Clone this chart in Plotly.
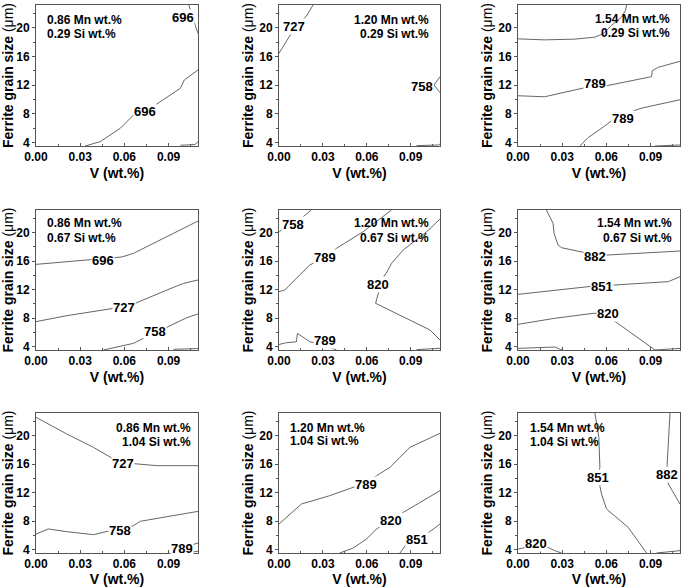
import plotly.graph_objects as go

# ---------------- data ----------------
MN_LEVELS = ["0.86", "1.20", "1.54"]
SI_LEVELS = ["0.29", "0.67", "1.04"]
X_TICKS = [0.0, 0.03, 0.06, 0.09]
Y_TICKS = [4, 8, 12, 16, 20]
X_RANGE = [0.0, 0.11]
Y_RANGE = [3.5, 23.2]

# Panel 1: 0.86 Mn, 0.29 Si
P1_LINES_X = [[0.1038, 0.1065, 0.11],
              [0.0333, 0.0435, 0.0572, 0.0662, 0.0742, 0.0821, 0.098, 0.1007, 0.11],
              [0.098, 0.108, 0.11]]
P1_LINES_Y = [[23.2, 21.3, 19.24],
              [3.5, 4.1, 5.97, 7.83, 8.39, 9.37, 11.56, 12.72, 14.12],
              [3.6, 3.7, 4.1]]
P1_LABEL_X = [0.0995, 0.0742]
P1_LABEL_Y = [21.5, 8.39]
P1_LABEL_T = ["696", "696"]

# Panel 2: 1.20 Mn, 0.29 Si
P2_LINES_X = [[0.0, 0.005, 0.0084, 0.0192, 0.021, 0.0233],
              [0.11, 0.1059, 0.11],
              [0.094, 0.1089, 0.11]]
P2_LINES_Y = [[16.45, 18.08, 19.24, 21.8, 22.5, 23.2],
              [13.19, 12.02, 10.95],
              [3.55, 3.64, 3.78]]
P2_LABEL_X = [0.0105, 0.0974]
P2_LABEL_Y = [20.17, 11.88]
P2_LABEL_T = ["727", "758"]

# Panel 3: 1.54 Mn, 0.29 Si
P3_LINES_X = [[0.0, 0.0181, 0.0386, 0.0522, 0.0578, 0.0635, 0.0703, 0.073, 0.0737],
              [0.0, 0.0181, 0.0442, 0.0522, 0.0601, 0.0907, 0.0912, 0.0953, 0.11],
              [0.042, 0.0476, 0.059, 0.0635, 0.0714, 0.0748, 0.0839, 0.11],
              [0.093, 0.11]]
P3_LINES_Y = [[18.47, 18.33, 18.43, 18.71, 19.18, 20.35, 21.52, 22.45, 23.2],
              [10.52, 10.38, 11.59, 12.1, 11.92, 13.19, 14.03, 14.5, 15.34],
              [3.5, 4.67, 6.31, 7.01, 7.5, 8.18, 8.79, 9.96],
              [3.5, 3.64]]
P3_LABEL_X = [0.0522, 0.0714]
P3_LABEL_Y = [12.2, 7.35]
P3_LABEL_T = ["789", "789"]

# Panel 4: 0.86 Mn, 0.67 Si
P4_LINES_X = [[0.0, 0.039, 0.0583, 0.0662, 0.0889, 0.11],
              [0.0, 0.0209, 0.0526, 0.0674, 0.0889, 0.1002, 0.11],
              [0.0458, 0.0572, 0.0662, 0.073, 0.09, 0.1025, 0.11],
              [0.0934, 0.11]]
P4_LINES_Y = [[15.55, 16.26, 16.59, 17.1, 19.45, 21.65],
              [7.49, 8.33, 9.36, 10.07, 11.94, 12.88, 13.35],
              [3.5, 3.97, 4.44, 5.14, 6.78, 8.05, 8.57],
              [3.6, 3.7]]
P4_LABEL_X = [0.0458, 0.0599, 0.081]
P4_LABEL_Y = [16.16, 9.46, 6.08]
P4_LABEL_T = ["696", "727", "758"]

# Panel 5: 1.20 Mn, 0.67 Si
P5_LINES_X = [[0.0, 0.0027, 0.0096, 0.0176, 0.0221],
              [0.0, 0.0039, 0.0141, 0.021, 0.0313, 0.0393, 0.0575, 0.0666, 0.0769],
              [0.11, 0.1009, 0.0849, 0.0769, 0.0739, 0.0678, 0.0682, 0.066, 0.1032, 0.11],
              [0.0, 0.005, 0.0119, 0.0126, 0.021, 0.0313, 0.0393],
              [0.094, 0.11]]
P5_LINES_Y = [[20.06, 20.62, 21.09, 22.4, 23.2],
              [11.71, 11.94, 14.05, 15.46, 16.49, 17.81, 20.15, 21.56, 23.2],
              [21.93, 20.15, 17.57, 15.7, 14.52, 12.74, 11.71, 10.07, 6.31, 4.91],
              [4.28, 4.52, 4.66, 5.85, 4.66, 4.2, 3.5],
              [3.55, 3.74]]
P5_LABEL_X = [0.0096, 0.0313, 0.0678, 0.0313]
P5_LABEL_Y = [21.09, 16.49, 12.74, 4.77]
P5_LABEL_T = ["758", "789", "820", "789"]

# Panel 6: 1.54 Mn, 0.67 Si
P6_LINES_X = [[0.0193, 0.0238, 0.0245, 0.0272, 0.0295, 0.0431, 0.0522, 0.0612, 0.0839, 0.11],
              [0.0, 0.0249, 0.0476, 0.0567, 0.0658, 0.1021, 0.11],
              [0.0, 0.0249, 0.051, 0.0612, 0.0646, 0.093],
              [0.0, 0.0249, 0.0299],
              [0.093, 0.11]]
P6_LINES_Y = [[23.2, 21.32, 19.92, 18.28, 17.9, 17.34, 16.9, 16.87, 17.1, 17.43],
              [11.33, 11.94, 12.41, 12.5, 12.65, 13.12, 13.82],
              [7.11, 7.96, 8.66, 8.66, 7.72, 3.5],
              [3.73, 3.92, 3.5],
              [3.5, 3.73]]
P6_LABEL_X = [0.0522, 0.0567, 0.0612]
P6_LABEL_Y = [16.63, 12.41, 8.66]
P6_LABEL_T = ["882", "851", "820"]

# Panel 7: 0.86 Mn, 1.04 Si
P7_LINES_X = [[0.0, 0.0209, 0.039, 0.0526, 0.0594, 0.0685, 0.0821, 0.11],
              [0.0, 0.0084, 0.0209, 0.039, 0.0503, 0.0572, 0.0662, 0.0708, 0.0889, 0.11],
              [0.0912, 0.0991, 0.11],
              [0.1025, 0.11]]
P7_LINES_Y = [[22.59, 20.25, 18.37, 16.73, 16.2, 16.02, 15.79, 15.79],
              [6.17, 6.88, 6.5, 6.08, 6.64, 6.8, 7.35, 7.96, 8.61, 9.36],
              [3.5, 4.2, 4.91],
              [3.55, 3.74]]
P7_LABEL_X = [0.0594, 0.0572, 0.0991]
P7_LABEL_Y = [16.12, 6.64, 4.2]
P7_LABEL_T = ["727", "758", "789"]

# Panel 8: 1.20 Mn, 1.04 Si
P8_LINES_X = [[0.0, 0.0062, 0.0153, 0.0347, 0.0507, 0.0593, 0.0666, 0.0758, 0.0895, 0.11],
              [0.0415, 0.0507, 0.0598, 0.0666, 0.0762, 0.0849, 0.11],
              [0.0826, 0.0872, 0.094, 0.1009, 0.11]]
P8_LINES_Y = [[7.58, 8.75, 10.39, 11.57, 12.74, 13.12, 14.38, 15.55, 18.37, 20.34],
              [3.5, 4.2, 5.47, 6.88, 8.05, 9.22, 12.27],
              [3.5, 4.77, 5.33, 6.17, 7.58]]
P8_LABEL_X = [0.0593, 0.0762, 0.094]
P8_LABEL_Y = [13.12, 8.05, 5.33]
P8_LABEL_T = ["789", "820", "851"]

# Panel 9: 1.54 Mn, 1.04 Si
P9_LINES_X = [[0.0522, 0.0549, 0.0556, 0.0544, 0.0567, 0.0601, 0.0748, 0.0873],
              [0.1032, 0.1025, 0.1016, 0.1009, 0.1021, 0.1066, 0.11],
              [0.0, 0.0079, 0.0125, 0.0193, 0.0249, 0.0295],
              [0.0941, 0.11]]
P9_LINES_Y = [[23.2, 19.78, 15.56, 14.15, 11.8, 9.69, 7.11, 3.5],
              [23.2, 19.78, 15.56, 14.52, 13.21, 11.57, 10.39, 8.75],
              [4.06, 4.39, 4.77, 4.39, 3.83, 3.5],
              [3.5, 3.83]]
P9_LABEL_X = [0.0544, 0.1009, 0.0125]
P9_LABEL_Y = [14.15, 14.52, 4.77]
P9_LABEL_T = ["851", "882", "820"]

PANELS = [
    (P1_LINES_X, P1_LINES_Y, P1_LABEL_X, P1_LABEL_Y, P1_LABEL_T),
    (P2_LINES_X, P2_LINES_Y, P2_LABEL_X, P2_LABEL_Y, P2_LABEL_T),
    (P3_LINES_X, P3_LINES_Y, P3_LABEL_X, P3_LABEL_Y, P3_LABEL_T),
    (P4_LINES_X, P4_LINES_Y, P4_LABEL_X, P4_LABEL_Y, P4_LABEL_T),
    (P5_LINES_X, P5_LINES_Y, P5_LABEL_X, P5_LABEL_Y, P5_LABEL_T),
    (P6_LINES_X, P6_LINES_Y, P6_LABEL_X, P6_LABEL_Y, P6_LABEL_T),
    (P7_LINES_X, P7_LINES_Y, P7_LABEL_X, P7_LABEL_Y, P7_LABEL_T),
    (P8_LINES_X, P8_LINES_Y, P8_LABEL_X, P8_LABEL_Y, P8_LABEL_T),
    (P9_LINES_X, P9_LINES_Y, P9_LABEL_X, P9_LABEL_Y, P9_LABEL_T),
]

# ---------------- layout ----------------
W, H = 685, 587
COL_PX = [(36, 198), (279, 440), (518, 680)]
ROW_PX = [(5, 146), (210, 350), (413, 553)]
# composition text placement (domain x, domain y line1, domain y line2, align)
TEXT_POS = [
    (0.056, 0.894, 0.794, "left"), (0.944, 0.894, 0.794, "right"), (0.951, 0.901, 0.801, "right"),
    (0.056, 0.907, 0.800, "left"), (0.944, 0.907, 0.800, "right"), (0.963, 0.907, 0.800, "right"),
    (0.969, 0.893, 0.793, "right"), (0.056, 0.893, 0.800, "left"), (0.062, 0.893, 0.793, "left"),
]

FONT = "Liberation Sans, Arial, sans-serif"
LINE_COLOR = "#666666"
FRAME_COLOR = "#555555"

fig = go.Figure()
annotations = []
layout = dict(
    width=W, height=H, autosize=False,
    margin=dict(l=0, r=0, t=0, b=0),
    paper_bgcolor="white", plot_bgcolor="white",
    showlegend=False,
    font=dict(family=FONT, color="black", size=12),
)

for i, (lx, ly, tx, ty, tt) in enumerate(PANELS):
    r, c = divmod(i, 3)
    n = i + 1
    xa = "x" if n == 1 else f"x{n}"
    ya = "y" if n == 1 else f"y{n}"
    xkey = "xaxis" if n == 1 else f"xaxis{n}"
    ykey = "yaxis" if n == 1 else f"yaxis{n}"
    x0, x1 = COL_PX[c]
    t0, t1 = ROW_PX[r]
    layout[xkey] = dict(
        domain=[x0 / W, x1 / W], anchor=ya, range=X_RANGE,
        tickvals=X_TICKS, tickformat=".2f", ticks="inside", ticklen=3,
        tickcolor=FRAME_COLOR, tickwidth=1,
        minor=dict(dtick=0.015, tick0=0, ticks="inside", ticklen=2, tickcolor=FRAME_COLOR),
        showline=True, linecolor=FRAME_COLOR, linewidth=1, mirror=True,
        showgrid=False, zeroline=False,
        tickfont=dict(family=FONT, size=12, weight="bold", color="black"),
        title=dict(text="V (wt.%)", font=dict(family=FONT, size=14, weight="bold", color="black"),
                   standoff=4),
        automargin=False,
    )
    layout[ykey] = dict(
        domain=[1 - t1 / H, 1 - t0 / H], anchor=xa, range=Y_RANGE,
        tickvals=Y_TICKS, ticks="outside", ticklen=3, tickcolor=FRAME_COLOR, tickwidth=1,
        minor=dict(dtick=2, tick0=0, ticks="outside", ticklen=2, tickcolor=FRAME_COLOR),
        showline=True, linecolor=FRAME_COLOR, linewidth=1, mirror=True,
        showgrid=False, zeroline=False,
        tickfont=dict(family=FONT, size=12, weight="bold", color="black"),
        title=dict(text="<b>Ferrite grain size</b> (μm)",
                   font=dict(family=FONT, size=14, color="black"), standoff=2),
        automargin=False,
    )
    for xs, ys in zip(lx, ly):
        fig.add_trace(go.Scatter(x=xs, y=ys, mode="lines", xaxis=xa, yaxis=ya,
                                 line=dict(color=LINE_COLOR, width=1), hoverinfo="skip",
                                 cliponaxis=True))
    for x, y, t in zip(tx, ty, tt):
        annotations.append(dict(x=x, y=y, xref=xa, yref=ya, text=f"<b>{t}</b>",
                                showarrow=False, bgcolor="white", borderpad=0,
                                font=dict(family=FONT, size=13, color="black")))
    dx, dy1, dy2, al = TEXT_POS[i]
    xanchor = "left" if al == "left" else "right"
    mn = MN_LEVELS[c]
    si = SI_LEVELS[r]
    for dy, txt in ((dy1, f"{mn} Mn wt.%"), (dy2, f"{si} Si wt.%")):
        annotations.append(dict(x=dx, y=dy, xref=f"{xa} domain", yref=f"{ya} domain",
                                text=f"<b>{txt}</b>", showarrow=False, xanchor=xanchor,
                                yanchor="middle",
                                font=dict(family=FONT, size=12, color="black")))

layout["annotations"] = annotations
fig.update_layout(**layout)
fig.write_html(
    "out.html",
    config={"displayModeBar": False},
    post_script="document.body.style.margin='0';document.body.style.padding='0';"
                "document.body.style.overflow='hidden';",
)
